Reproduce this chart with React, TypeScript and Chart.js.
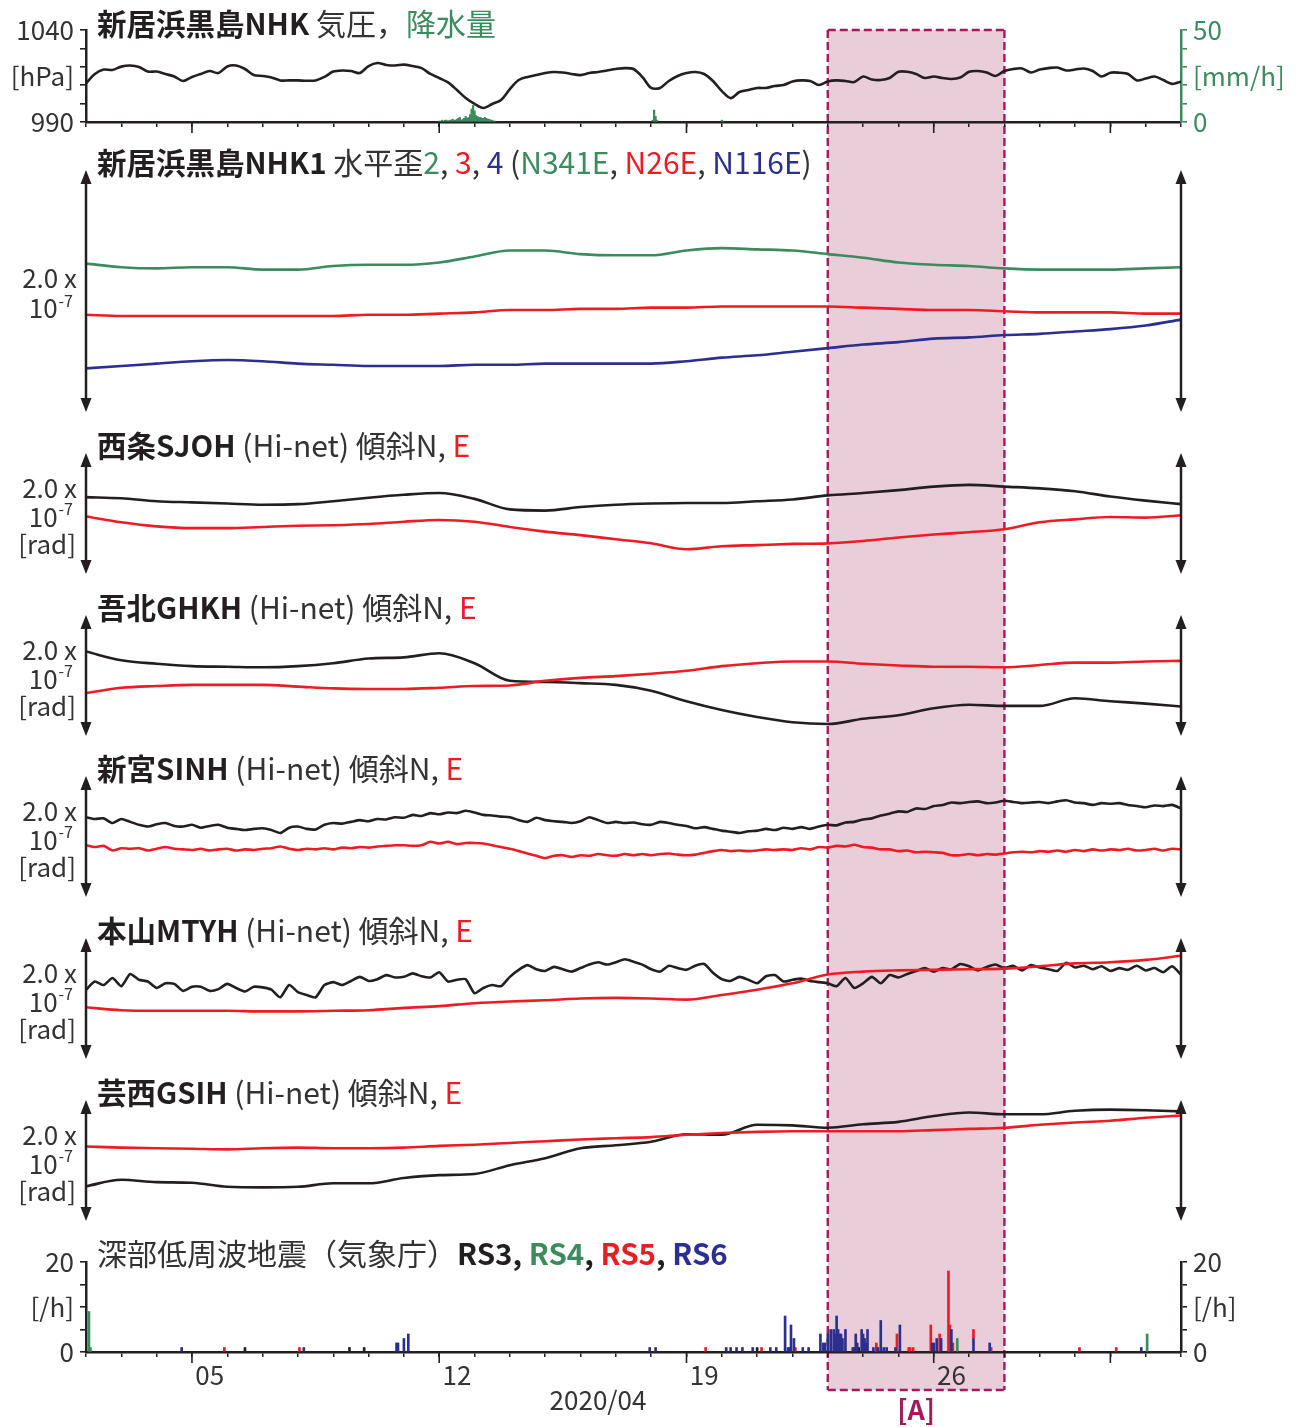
import React, { useEffect, useRef } from 'react';
import { Chart, registerables } from 'chart.js';

Chart.register(...registerables);

const FONT = "'Noto Sans CJK JP', 'Noto Sans', sans-serif";
Chart.defaults.font.family = FONT;

// ---------------- colours ----------------
const C_BLACK = '#231f20';
const C_TEXT = '#333333';
const C_GREEN = '#3b8b5e';
const C_RED = '#ec1c24';
const C_BLUE = '#2b2f8f';
const C_SHADE = '#e9cdd9';
const C_BOX = '#a31b5c';

// ---------------- time axis (day of April; 31 = May 1) ----------------
const X_MIN = 2;
const X_MAX = 33;
const EVENT_START = 23; // [A] Apr 23 00:00
const EVENT_END = 28; // [A] Apr 28 00:00
const dayTickDays = [2, 3, 4, 5, 6, 7, 8, 9, 10, 11, 12, 13, 14, 15, 16, 17, 18, 19, 20, 21, 22, 23, 24, 25, 26, 27, 28, 29, 30, 31, 32, 33];
const longTickDays = [5, 12, 19, 26, 31];
const labelDays = [5.5, 12.5, 19.5, 26.5];
const labelTexts = ['05', '12', '19', '26'];
const monthLabel = '2020/04';
const eventLabel = '[A]';

// ---------------- panel 1: pressure (every 6 h from Apr 2 00:00) & rain (hourly) ----------------
const pressureHPa = [
  1011.0, 1016.1, 1018.5, 1018.3, 1020.1, 1020.7, 1019.9, 1017.4, 1017.4, 1016.1,
  1014.7, 1012.3, 1014.5, 1016.1, 1017.7, 1016.6, 1020.2, 1020.7, 1018.8, 1015.5,
  1015.0, 1014.2, 1012.6, 1012.6, 1012.6, 1012.4, 1012.6, 1014.5, 1017.4, 1018.0,
  1017.7, 1016.6, 1020.4, 1022.1, 1021.0, 1020.7, 1021.2, 1020.4, 1019.3, 1016.1,
  1013.9, 1011.5, 1007.4, 1003.0, 999.8, 997.6, 999.8, 1002.0, 1007.9, 1012.8,
  1014.5, 1015.5, 1016.6, 1017.2, 1016.9, 1016.1, 1015.5, 1016.6, 1017.2, 1018.0,
  1018.8, 1019.3, 1018.8, 1014.5, 1008.5, 1008.5, 1012.3, 1015.0, 1016.6, 1017.2,
  1016.1, 1012.3, 1006.8, 1003.0, 1006.3, 1007.4, 1008.5, 1008.5, 1009.6, 1010.1,
  1012.0, 1012.6, 1012.3, 1010.1, 1012.0, 1012.6, 1012.3, 1011.7, 1014.7, 1013.1,
  1012.8, 1013.9, 1017.3, 1017.3, 1016.1, 1013.9, 1014.7, 1013.9, 1013.4, 1014.2,
  1017.3, 1017.7, 1016.9, 1015.0, 1017.7, 1018.8, 1019.1, 1016.9, 1018.5, 1019.3,
  1019.6, 1018.0, 1018.5, 1019.1, 1017.7, 1014.7, 1016.8, 1016.8, 1016.1, 1012.6,
  1013.6, 1014.7, 1012.8, 1010.7, 1011.9,
];
const rainHours = [
  264, 265, 266, 267, 268, 269, 270, 271, 272, 273, 274, 275, 276, 277, 278, 279, 280, 281, 282, 283,
  284, 285, 286, 287, 288, 289, 290, 291, 292, 293, 294, 295, 296, 297, 298, 299, 300, 301, 302,
  409, 410, 411, 412, 456, 457,
];
const rainMm = [
  0.5, 0.5, 1, 0.5, 1, 1, 0.5, 1, 1, 1.5, 1, 1, 1.5, 2, 2.5, 1, 1.5, 2, 3, 2,
  2.5, 4, 7, 9, 6, 3.5, 3, 2.5, 2.5, 2, 2, 2.5, 2, 1.5, 1.5, 1, 1, 0.5, 0.5,
  1, 6.5, 3, 1, 1, 0.5,
];
const hpaTicks = [990, 1000, 1010, 1015, 1020, 1030, 1040];
const hpaLabels = ['990', '', '', '[hPa]', '', '', '1040'];
const rainTicks = [0, 10, 20, 25, 30, 40, 50];
const rainLabels = ['0', '', '', '[mm/h]', '', '', '50'];

// ---------------- panel 2: NHK1 strain (daily, x10^-9) ----------------
const nhkCh2 = [123, 120, 119, 120, 120, 118, 118, 121, 122, 122, 124, 129, 134, 134, 131, 130, 130, 134, 136, 135, 134, 131, 128, 124, 122, 121, 119, 118, 118, 118, 119, 120];
const nhkCh3 = [80, 79, 79, 79, 79, 79, 79, 79, 80, 80, 81, 82, 84, 84, 85, 85, 86, 86, 87, 87, 87, 87, 86, 85, 84, 84, 83, 82, 82, 82, 81, 81];
const nhkCh4 = [35, 37, 39, 41, 42, 41, 39, 38, 37, 37, 37, 38, 38, 39, 39, 39, 39, 41, 44, 46, 49, 52, 55, 57, 60, 61, 63, 64, 66, 68, 71, 76];

// ---------------- tilt panels (x10^-9 rad) ----------------
const sjohN = [128, 126, 121, 119, 117, 115, 116, 121, 127, 132, 135, 125, 107, 105, 111, 115, 117, 118, 118, 121, 124, 131, 135, 140, 146, 149, 146, 143, 138, 129, 122, 116];
const sjohE = [95, 85, 78, 75, 75, 77, 79, 80, 82, 86, 89, 86, 77, 69, 63, 56, 49, 39, 44, 46, 48, 49, 53, 59, 64, 68, 73, 85, 90, 94, 93, 97];
const ghkhN = [141, 126, 120, 116, 115, 114, 116, 121, 129, 131, 138, 121, 91, 89, 87, 84, 74, 56, 41, 29, 20, 17, 26, 32, 44, 50, 48, 48, 61, 56, 52, 47];
const ghkhE = [70, 79, 82, 84, 84, 84, 81, 78, 77, 77, 79, 82, 83, 91, 96, 99, 103, 108, 116, 121, 124, 124, 120, 117, 115, 115, 114, 118, 122, 122, 124, 125];
// 6-hourly
const sinhN = [
  133, 130, 131, 123, 130, 125, 120, 117, 121, 123,
  118, 117, 120, 115, 118, 120, 115, 113, 111, 113,
  114, 111, 106, 115, 117, 113, 112, 120, 123, 122,
  125, 128, 126, 130, 129, 133, 132, 137, 135, 140,
  138, 141, 140, 144, 141, 137, 136, 134, 133, 128,
  125, 132, 128, 126, 125, 123, 126, 133, 128, 123,
  125, 123, 124, 121, 120, 125, 123, 120, 118, 114,
  116, 113, 110, 108, 106, 109, 110, 113, 111, 115,
  113, 116, 113, 117, 120, 119, 124, 125, 129, 131,
  136, 139, 143, 142, 148, 147, 152, 154, 158, 157,
  159, 160, 157, 158, 161, 159, 157, 158, 159, 157,
  160, 162, 158, 157, 154, 157, 156, 157, 154, 152,
  150, 153, 152, 154, 148,
];
const sinhE = [
  85, 82, 84, 76, 80, 79, 80, 76, 79, 82,
  79, 78, 77, 79, 76, 78, 79, 76, 78, 77,
  79, 80, 83, 79, 77, 79, 78, 80, 78, 81,
  80, 82, 81, 83, 84, 85, 85, 84, 85, 91,
  88, 91, 87, 89, 89, 88, 85, 82, 79, 75,
  71, 67, 63, 67, 68, 65, 68, 67, 70, 68,
  67, 70, 68, 70, 68, 70, 71, 69, 68, 69,
  72, 75, 77, 75, 76, 75, 76, 78, 77, 78,
  77, 80, 78, 82, 81, 84, 83, 86, 82, 81,
  78, 78, 75, 76, 73, 74, 73, 72, 68, 68,
  70, 68, 70, 69, 71, 73, 74, 73, 75, 74,
  76, 74, 77, 75, 78, 76, 78, 77, 79, 76,
  77, 79, 76, 79, 78,
];
const mtyhN = [
  115, 129, 123, 135, 121, 142, 132, 129, 118, 126,
  125, 113, 120, 120, 113, 116, 125, 118, 112, 120,
  119, 115, 102, 123, 111, 106, 102, 123, 128, 123,
  130, 137, 130, 133, 140, 136, 137, 143, 138, 136,
  145, 129, 132, 133, 109, 118, 123, 121, 137, 149,
  157, 150, 147, 154, 150, 146, 152, 158, 162, 158,
  162, 167, 163, 158, 150, 146, 156, 152, 149, 156,
  159, 144, 133, 130, 137, 132, 126, 138, 140, 129,
  132, 134, 130, 128, 126, 121, 135, 118, 126, 137,
  126, 140, 136, 142, 147, 152, 146, 152, 150, 159,
  155, 148, 154, 158, 152, 156, 148, 157, 153, 150,
  147, 161, 153, 156, 150, 155, 147, 152, 149, 156,
  148, 152, 145, 155, 141,
];
const mtyhE = [85, 80, 79, 79, 79, 78, 78, 79, 80, 84, 87, 92, 95, 97, 100, 101, 100, 98, 106, 115, 126, 141, 146, 148, 149, 150, 151, 155, 160, 162, 166, 173];
const gsihN = [56, 67, 63, 62, 55, 54, 55, 61, 61, 70, 75, 77, 92, 104, 121, 126, 132, 145, 144, 161, 160, 156, 162, 166, 176, 182, 179, 179, 185, 187, 186, 184];
const gsihE = [124, 122, 121, 120, 119, 121, 122, 121, 121, 122, 125, 127, 130, 133, 136, 138, 140, 144, 147, 149, 150, 150, 150, 150, 152, 154, 156, 161, 165, 168, 173, 177];

// ---------------- panel 8: deep low-frequency tremor counts (hour of April, count/h) ----------------
const rs3Hours = [132, 203, 213, 480, 549];
const rs3Counts = [1, 1, 1, 1, 1];
const rs4Hours = [26, 27, 616, 745];
const rs4Counts = [9, 1, 3, 4];
const rs5Hours = [118, 169, 445, 483, 506, 561, 575, 583, 584, 586, 598, 604, 610, 611, 613, 627, 639, 699, 724];
const rs5Counts = [1, 1, 1, 1, 1, 2, 4, 1, 1, 1, 6, 4, 18, 6, 2, 2, 1, 1, 1];
const rs6Hours = [
  89, 172, 235, 236, 240, 243, 407, 411, 459, 462, 466, 470, 477, 489, 493,
  499, 501, 502, 503, 505, 511, 515, 523, 525, 526, 528,
  530, 532, 533, 534, 535, 536, 537, 538, 540, 545, 546, 547, 548,
  551, 552, 553, 554, 555, 559, 562, 564, 566, 568, 574, 577,
  599, 600, 602, 605, 612, 627, 638, 741,
];
const rs6Counts = [
  1, 1, 2, 2, 3, 4, 1, 1, 1, 1, 1, 1, 1, 1, 1,
  8, 1, 1, 6, 3, 1, 1, 4, 2, 2, 4,
  5, 5, 4, 8, 5, 4, 4, 3, 5, 1, 1, 4, 2,
  5, 4, 3, 2, 5, 1, 1, 7, 1, 1, 1, 6,
  2, 2, 3, 3, 5, 3, 2, 1,
];
const quakeTicks = [0, 5, 10, 15, 20];
const quakeLabels = ['0', '', '[/h]', '', '20'];

// ---------------- helpers ----------------
const seriesPts = (start: number, step: number, vals: number[]) => vals.map((v, i) => ({ x: start + i * step, y: v }));
const eventPts = (hours: number[], vals: number[]) => hours.map((h, i) => ({ x: 1 + h / 24, y: vals[i] }));

// ---------------- geometry ----------------
const PAGE_W = 1299;
const PAGE_H = 1427;
const LEFT_W = 86;
const RIGHT_W = 118;
const BOX_TOP = 30;
const BOX_BOTTOM = 1390;
const DASH = [8, 4];
const TITLE_BOLD = `bold 29.5px ${FONT}`;
const TITLE_REG = `30px ${FONT}`;

type Seg = { t: string; c?: string; b?: boolean };
type Decor = {
  top: number;
  height: number;
  titleY: number;
  title: Seg[];
  arrows?: boolean;
  scaleOffsets?: number[];
  supRaise?: number;
  withRad?: boolean;
  longTicks?: boolean;
  bottomTexts?: boolean;
};

function drawArrow(ctx: any, x: number, yTop: number, yBot: number) {
  const hl = 14;
  const hw = 5.5;
  ctx.strokeStyle = C_BLACK;
  ctx.fillStyle = C_BLACK;
  ctx.lineWidth = 2.5;
  ctx.setLineDash([]);
  ctx.beginPath();
  ctx.moveTo(x, yTop + hl - 2);
  ctx.lineTo(x, yBot - hl + 2);
  ctx.stroke();
  ctx.beginPath();
  ctx.moveTo(x, yTop);
  ctx.lineTo(x - hw, yTop + hl);
  ctx.lineTo(x + hw, yTop + hl);
  ctx.closePath();
  ctx.fill();
  ctx.beginPath();
  ctx.moveTo(x, yBot);
  ctx.lineTo(x - hw, yBot - hl);
  ctx.lineTo(x + hw, yBot - hl);
  ctx.closePath();
  ctx.fill();
}

function makeDecor(d: Decor) {
  return {
    id: 'decor',
    beforeDraw(chart: any) {
      const ctx = chart.ctx;
      const xs = chart.scales.x;
      const xa = xs.getPixelForValue(EVENT_START);
      const xb = xs.getPixelForValue(EVENT_END);
      const ya = Math.max(0, BOX_TOP - d.top);
      const yb = Math.min(d.height, BOX_BOTTOM - d.top);
      ctx.save();
      ctx.fillStyle = C_SHADE;
      ctx.fillRect(xa, ya, xb - xa, yb - ya);
      ctx.strokeStyle = C_BOX;
      ctx.lineWidth = 2.4;
      ctx.setLineDash(DASH);
      ctx.lineDashOffset = (d.top + ya - BOX_TOP) % 12;
      ctx.beginPath();
      ctx.moveTo(xa, ya);
      ctx.lineTo(xa, yb);
      ctx.stroke();
      ctx.beginPath();
      ctx.moveTo(xb, ya);
      ctx.lineTo(xb, yb);
      ctx.stroke();
      ctx.lineDashOffset = 0;
      if (BOX_TOP >= d.top && BOX_TOP < d.top + d.height) {
        ctx.beginPath();
        ctx.moveTo(xa, BOX_TOP - d.top);
        ctx.lineTo(xb, BOX_TOP - d.top);
        ctx.stroke();
      }
      if (BOX_BOTTOM > d.top && BOX_BOTTOM <= d.top + d.height) {
        ctx.beginPath();
        ctx.moveTo(xa, BOX_BOTTOM - d.top);
        ctx.lineTo(xb, BOX_BOTTOM - d.top);
        ctx.stroke();
      }
      ctx.restore();
    },
    afterDraw(chart: any) {
      const ctx = chart.ctx;
      const area = chart.chartArea;
      const xs = chart.scales.x;
      ctx.save();
      // title
      let x = 97;
      const ty = d.titleY - d.top;
      ctx.textBaseline = 'middle';
      ctx.textAlign = 'left';
      for (const s of d.title) {
        ctx.font = s.b ? TITLE_BOLD : TITLE_REG;
        ctx.fillStyle = s.c || (s.b ? C_BLACK : C_TEXT);
        ctx.fillText(s.t, x, ty);
        x += ctx.measureText(s.t).width;
      }
      // arrows
      if (d.arrows) {
        drawArrow(ctx, area.left, area.top - 2, area.bottom + 2);
        drawArrow(ctx, area.right, area.top - 2, area.bottom + 2);
      }
      // scale text
      if (d.scaleOffsets) {
        const [o1, o2, o3] = d.scaleOffsets;
        ctx.fillStyle = C_TEXT;
        ctx.textAlign = 'right';
        ctx.font = `26px ${FONT}`;
        ctx.fillText('2.0 x', 77, area.top + o1);
        ctx.font = `16px ${FONT}`;
        const w2 = ctx.measureText('-7').width;
        ctx.fillText('-7', 73, area.top + o2 - (d.supRaise || 8));
        ctx.font = `26px ${FONT}`;
        ctx.fillText('10', 73 - w2 - 1, area.top + o2);
        if (d.withRad && o3 !== undefined) ctx.fillText('[rad]', 76, area.top + o3);
      }
      // long (weekly / month) ticks
      if (d.longTicks) {
        ctx.strokeStyle = C_BLACK;
        ctx.lineWidth = 1.6;
        ctx.setLineDash([]);
        for (const v of longTickDays) {
          const px = xs.getPixelForValue(v);
          ctx.beginPath();
          ctx.moveTo(px, area.bottom);
          ctx.lineTo(px, area.bottom + 11);
          ctx.stroke();
        }
      }
      if (d.bottomTexts) {
        ctx.textAlign = 'center';
        ctx.textBaseline = 'middle';
        ctx.font = `26px ${FONT}`;
        ctx.fillStyle = C_TEXT;
        ctx.fillText(monthLabel, 598, 1400 - d.top);
        ctx.font = `bold 27px ${FONT}`;
        ctx.fillStyle = C_BOX;
        const xa = xs.getPixelForValue(EVENT_START);
        const xb = xs.getPixelForValue(EVENT_END);
        ctx.fillText(eventLabel, (xa + xb) / 2, 1410 - d.top);
      }
      ctx.restore();
    },
  };
}

const baseOptions = () => ({
  responsive: false,
  animation: false as const,
  devicePixelRatio: 1,
  events: [] as any[],
  plugins: { legend: { display: false }, tooltip: { enabled: false } },
});

function dayAxis(height: number, withLabels: boolean) {
  const ticks = withLabels ? [...dayTickDays, ...labelDays].sort((a, b) => a - b) : dayTickDays;
  return {
    type: 'linear',
    position: 'bottom',
    min: X_MIN,
    max: X_MAX,
    offset: false,
    stacked: withLabels,
    afterBuildTicks: (s: any) => {
      s.ticks = ticks.map((v) => ({ value: v }));
    },
    afterFit: (s: any) => {
      s.height = height;
    },
    grid: {
      drawOnChartArea: false,
      drawTicks: true,
      tickLength: 5,
      offset: false,
      lineWidth: 1.5,
      color: (c: any) => (c.tick && !Number.isInteger(c.tick.value) ? 'rgba(0,0,0,0)' : C_BLACK),
    },
    border: { display: true, color: C_BLACK, width: 2.5 },
    ticks: {
      display: withLabels,
      autoSkip: false,
      maxRotation: 0,
      minRotation: 0,
      padding: 3,
      color: C_TEXT,
      font: { size: 26 },
      callback: (v: number) => {
        const i = labelDays.indexOf(v);
        return i >= 0 ? labelTexts[i] : '';
      },
    },
  };
}

function valueAxis(pos: 'left' | 'right', min: number, max: number, tickVals: number[], labels: string[], color: string, hidden: number[]) {
  return {
    type: 'linear',
    position: pos,
    min,
    max,
    afterBuildTicks: (s: any) => {
      s.ticks = tickVals.map((v) => ({ value: v }));
    },
    afterFit: (s: any) => {
      s.width = pos === 'left' ? LEFT_W : RIGHT_W;
    },
    grid: {
      drawOnChartArea: false,
      drawTicks: true,
      tickLength: 6,
      lineWidth: 1.6,
      color: (c: any) => (c.tick && hidden.includes(c.tick.value) ? 'rgba(0,0,0,0)' : color),
    },
    border: { display: true, color, width: 2.5 },
    ticks: {
      autoSkip: false,
      padding: 6,
      color: color === C_BLACK ? C_TEXT : color,
      font: { size: 26 },
      callback: (_v: number, i: number) => labels[i],
    },
  };
}

// ---------------- chart builders ----------------
function pressureChart(d: Decor, areaBottom: number) {
  return {
    type: 'line',
    data: {
      datasets: [
        {
          type: 'line',
          data: seriesPts(2, 0.25, pressureHPa),
          borderColor: C_BLACK,
          borderWidth: 2.6,
          pointRadius: 0,
          tension: 0.3,
          yAxisID: 'y',
        },
        {
          type: 'bar',
          data: eventPts(rainHours, rainMm),
          backgroundColor: C_GREEN,
          barThickness: 1.6,
          yAxisID: 'yr',
        },
      ],
    },
    options: {
      ...baseOptions(),
      layout: { padding: { top: BOX_TOP - d.top, left: 0, right: 0, bottom: 0 } },
      scales: {
        x: dayAxis(d.top + d.height - areaBottom, false),
        y: valueAxis('left', 990, 1040, hpaTicks, hpaLabels, C_BLACK, [1015]),
        yr: valueAxis('right', 0, 50, rainTicks, rainLabels, C_GREEN, [25]),
      },
    },
    plugins: [makeDecor(d)],
  };
}

type Line = { vals: number[]; step: number; color: string; noisy?: boolean };

function arrowChart(d: Decor, areaTop: number, areaBottom: number, lines: Line[]) {
  return {
    type: 'line',
    data: {
      datasets: lines.map((l) => ({
        data: seriesPts(2, l.step, l.vals),
        borderColor: l.color,
        borderWidth: 2.6,
        pointRadius: 0,
        tension: l.noisy ? 0.2 : 0.4,
        cubicInterpolationMode: l.noisy ? 'default' : 'monotone',
      })),
    },
    options: {
      ...baseOptions(),
      layout: {
        padding: { top: areaTop - d.top, bottom: d.top + d.height - areaBottom, left: LEFT_W, right: RIGHT_W },
      },
      scales: {
        x: { type: 'linear', min: X_MIN, max: X_MAX, display: false },
        y: { type: 'linear', min: 0, max: 200, display: false },
      },
    },
    plugins: [makeDecor(d)],
  };
}

function quakeChart(d: Decor) {
  const mk = (hours: number[], counts: number[], color: string) => ({
    data: eventPts(hours, counts),
    backgroundColor: color,
    barThickness: 2,
    yAxisID: 'y',
  });
  return {
    type: 'bar',
    data: {
      datasets: [
        mk(rs6Hours, rs6Counts, C_BLUE),
        mk(rs5Hours, rs5Counts, C_RED),
        mk(rs4Hours, rs4Counts, C_GREEN),
        mk(rs3Hours, rs3Counts, C_BLACK),
      ],
    },
    options: {
      ...baseOptions(),
      layout: { padding: { top: 1262 - d.top, left: 0, right: 0, bottom: 0 } },
      scales: {
        x: dayAxis(PAGE_H - 1352, true),
        y: { ...valueAxis('left', 0, 20, quakeTicks, quakeLabels, C_BLACK, []), stacked: true },
        y2: valueAxis('right', 0, 20, quakeTicks, quakeLabels, C_BLACK, []),
      },
    },
    plugins: [makeDecor(d)],
  };
}

// ---------------- panels ----------------
const tiltTitle = (name: string): Seg[] => [
  { t: name, b: true },
  { t: ' (Hi-net) 傾斜N, ' },
  { t: 'E', c: C_RED },
];
const TILT_OFFSETS = [33, 62, 89];

const panels: { top: number; height: number; make: () => any }[] = [
  {
    top: 0,
    height: 146,
    make: () =>
      pressureChart(
        {
          top: 0,
          height: 146,
          titleY: 24,
          title: [{ t: '新居浜黒島NHK', b: true }, { t: ' 気圧，' }, { t: '降水量', c: C_GREEN }],
          longTicks: true,
        },
        122,
      ),
  },
  {
    top: 146,
    height: 279,
    make: () =>
      arrowChart(
        {
          top: 146,
          height: 279,
          titleY: 163,
          title: [
            { t: '新居浜黒島NHK1', b: true },
            { t: ' 水平歪' },
            { t: '2', c: C_GREEN },
            { t: ', ' },
            { t: '3', c: C_RED },
            { t: ', ' },
            { t: '4', c: C_BLUE },
            { t: ' (' },
            { t: 'N341E', c: C_GREEN },
            { t: ', ' },
            { t: 'N26E', c: C_RED },
            { t: ', ' },
            { t: 'N116E', c: C_BLUE },
            { t: ')' },
          ],
          arrows: true,
          scaleOffsets: [106, 136],
          supRaise: 7,
        },
        172,
        410,
        [
          { vals: nhkCh3, step: 1, color: C_RED },
          { vals: nhkCh2, step: 1, color: C_GREEN },
          { vals: nhkCh4, step: 1, color: C_BLUE },
        ],
      ),
  },
  {
    top: 425,
    height: 165,
    make: () =>
      arrowChart(
        { top: 425, height: 165, titleY: 446, title: tiltTitle('西条SJOH'), arrows: true, scaleOffsets: TILT_OFFSETS, withRad: true },
        455,
        572,
        [
          { vals: sjohE, step: 1, color: C_RED },
          { vals: sjohN, step: 1, color: C_BLACK },
        ],
      ),
  },
  {
    top: 590,
    height: 160,
    make: () =>
      arrowChart(
        { top: 590, height: 160, titleY: 608, title: tiltTitle('吾北GHKH'), arrows: true, scaleOffsets: TILT_OFFSETS, withRad: true },
        617,
        734,
        [
          { vals: ghkhE, step: 1, color: C_RED },
          { vals: ghkhN, step: 1, color: C_BLACK },
        ],
      ),
  },
  {
    top: 750,
    height: 162,
    make: () =>
      arrowChart(
        { top: 750, height: 162, titleY: 769, title: tiltTitle('新宮SINH'), arrows: true, scaleOffsets: TILT_OFFSETS, withRad: true },
        778,
        895,
        [
          { vals: sinhE, step: 0.25, color: C_RED, noisy: true },
          { vals: sinhN, step: 0.25, color: C_BLACK, noisy: true },
        ],
      ),
  },
  {
    top: 912,
    height: 161,
    make: () =>
      arrowChart(
        { top: 912, height: 161, titleY: 931, title: tiltTitle('本山MTYH'), arrows: true, scaleOffsets: TILT_OFFSETS, withRad: true },
        940,
        1057,
        [
          { vals: mtyhE, step: 1, color: C_RED },
          { vals: mtyhN, step: 0.25, color: C_BLACK, noisy: true },
        ],
      ),
  },
  {
    top: 1073,
    height: 162,
    make: () =>
      arrowChart(
        { top: 1073, height: 162, titleY: 1093, title: tiltTitle('芸西GSIH'), arrows: true, scaleOffsets: TILT_OFFSETS, withRad: true },
        1102,
        1219,
        [
          { vals: gsihE, step: 1, color: C_RED },
          { vals: gsihN, step: 1, color: C_BLACK },
        ],
      ),
  },
  {
    top: 1235,
    height: 192,
    make: () =>
      quakeChart({
        top: 1235,
        height: 192,
        titleY: 1254,
        title: [
          { t: '深部低周波地震（気象庁）' },
          { t: 'RS3', b: true },
          { t: ', ', b: true },
          { t: 'RS4', b: true, c: C_GREEN },
          { t: ', ', b: true },
          { t: 'RS5', b: true, c: C_RED },
          { t: ', ', b: true },
          { t: 'RS6', b: true, c: C_BLUE },
        ],
        longTicks: true,
        bottomTexts: true,
      }),
  },
];

function PanelCanvas({ top, height, make }: { top: number; height: number; make: () => any }) {
  const ref = useRef<HTMLCanvasElement | null>(null);
  useEffect(() => {
    if (!ref.current) return;
    const chart = new Chart(ref.current, make());
    return () => chart.destroy();
  }, []);
  return (
    <canvas
      ref={ref}
      width={PAGE_W}
      height={height}
      style={{ position: 'absolute', left: 0, top, width: PAGE_W, height, display: 'block' }}
    />
  );
}

export default function App() {
  return (
    <div style={{ position: 'absolute', left: 0, top: 0, width: PAGE_W, height: PAGE_H, background: '#ffffff', overflow: 'hidden' }}>
      {panels.map((p, i) => (
        <PanelCanvas key={i} top={p.top} height={p.height} make={p.make} />
      ))}
    </div>
  );
}
